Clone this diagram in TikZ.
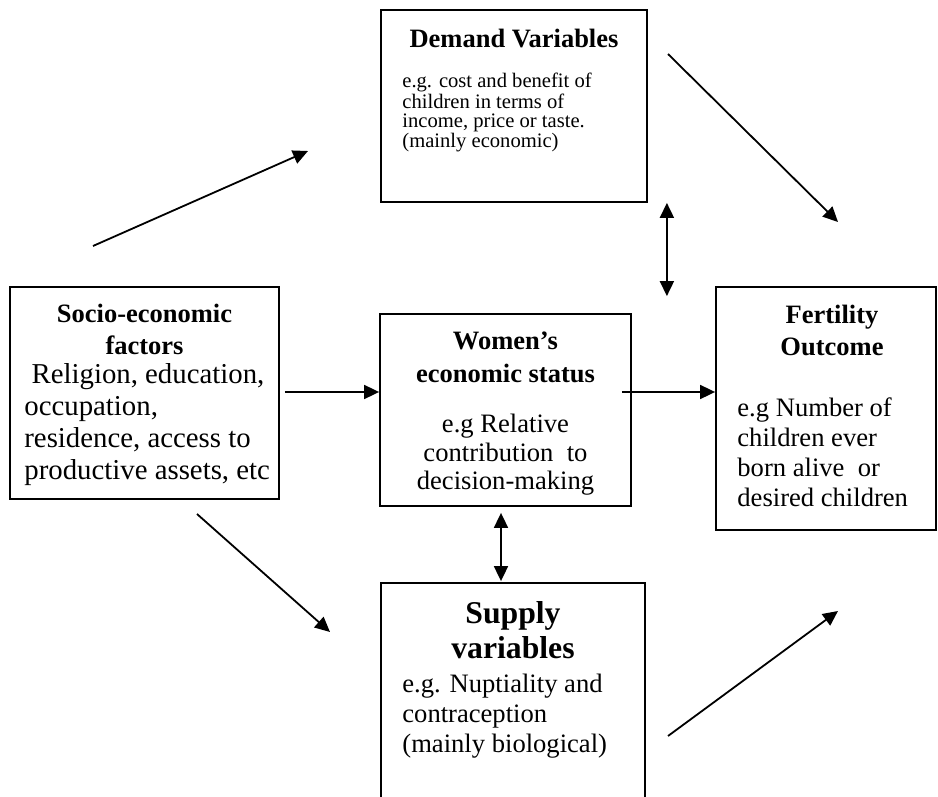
\documentclass[tikz,border=0pt]{standalone}
\usepackage{fontspec}
\setmainfont{Liberation Serif}
\usetikzlibrary{arrows.meta}

\tikzset{
  box/.style={draw, line width=0.9pt, inner sep=0pt},
  hd/.style={font=\bfseries\fontsize{13.25}{16}\selectfont, align=center, anchor=north, inner sep=0pt},
  txt/.style={font=\fontsize{13.3}{14.5}\selectfont, align=left, anchor=north west, inner sep=0pt},
  arr/.style={-{Triangle[length=7.5pt,width=7pt]}, line width=0.9pt},
  darr/.style={{Triangle[length=7.5pt,width=7pt]}-{Triangle[length=7.5pt,width=7pt]}, line width=0.9pt},
}

\begin{document}
\begin{tikzpicture}[x=0.5pt, y=-0.5pt]
\useasboundingbox (0,0) rectangle (938,797);
\clip (0,0) rectangle (938,797);

% boxes
\node[box, minimum width=133pt, minimum height=96pt] (demand) at (514,106) {};
\node[box, minimum width=134.5pt, minimum height=106pt] (socio) at (144.5,393) {};
\node[box, minimum width=125.5pt, minimum height=96pt] (women) at (505.5,410) {};
\node[box, minimum width=110pt, minimum height=121.5pt] (fert) at (826,408.5) {};
\node[box, minimum width=132pt, minimum height=118.5pt] (supply) at (513,701.5) {};

% texts
\node[hd] (demandT) at (514,29) {Demand Variables};
\node[txt, font=\fontsize{10.3}{9.2}\selectfont] (demandB) at (402,73)
  {e.g. cost and benefit of\\children in terms of\\income, price or taste.\\(mainly economic)};

\node[hd] (socioT) at (144.5,304) {Socio-economic\\factors};
\node[txt, font=\fontsize{14.4}{16}\selectfont] (socioB) at (24,363)
  {~Religion, education,\\occupation,\\residence, access to\\productive assets, etc};

\node[hd, font=\bfseries\fontsize{13.25}{16.5}\selectfont] (womenT) at (505.5,331) {Women’s\\economic status};
\node[txt, align=center, anchor=north, font=\fontsize{13.3}{14.2}\selectfont] (womenB) at (505.5,414)
  {e.g Relative\\contribution~ to\\decision-making};

\node[hd] (fertT) at (832,305) {Fertility\\Outcome};
\node[txt, font=\fontsize{13.3}{15}\selectfont] (fertB) at (737,397)
  {e.g Number of\\children ever\\born alive~ or\\desired children};

\node[hd, font=\bfseries\fontsize{15.85}{17.5}\selectfont] (supplyT) at (513,601) {Supply\\variables};
\node[txt, font=\fontsize{13.3}{15}\selectfont] (supplyB) at (402,674)
  {e.g. Nuptiality and\\contraception\\(mainly biological)};

% free ends of the slanted arrows
\coordinate (sd1) at (93,246);
\coordinate (sd2) at (308,151);
\coordinate (df1) at (668,54);
\coordinate (df2) at (838,222);
\coordinate (ss1) at (197,514);
\coordinate (ss2) at (330,632);
\coordinate (sf1) at (668,736);
\coordinate (sf2) at (838,611);
\coordinate (row) at (0,392);

\path[arr] (sd1) edge (sd2);
\path[arr] (df1) edge (df2);
\path[arr] (ss1) edge (ss2);
\path[arr] (sf1) edge (sf2);

\path[arr] ([xshift=2.5pt]socio.east |- row) edge (women.west |- row);
\path[arr] ([xshift=-5pt]women.east |- row) edge (fert.west |- row);
\path[darr] ([xshift=9.5pt]demand.south east) edge ([xshift=17.5pt,yshift=8.5pt]women.north east);
\path[darr] ([xshift=-2.25pt,yshift=-3pt]women.south) edge ([xshift=-2.25pt,yshift=0.5pt]women.south |- supply.north);
\end{tikzpicture}
\end{document}
